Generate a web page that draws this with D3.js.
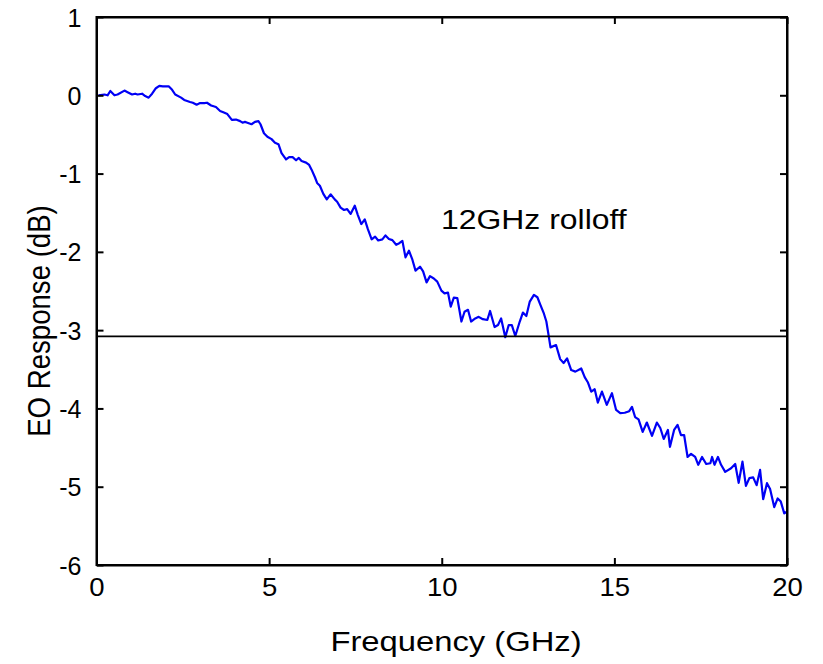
<!DOCTYPE html>
<html><head><meta charset="utf-8">
<script src="https://cdn.jsdelivr.net/npm/d3@7"></script>
<style>body{margin:0;background:#fff}svg{display:block}text{font-family:"Liberation Sans",Arial,Helvetica,sans-serif;fill:#000}</style>
</head><body><svg id="c" width="823" height="664"></svg>
<script>
const freq = [0.06,0.23,0.32,0.40,0.52,0.61,0.81,0.90,1.03,1.12,1.19,1.32,1.41,1.51,1.61,1.72,1.82,1.92,2.09,2.19,2.28,2.45,2.54,2.71,2.79,2.90,3.00,3.12,3.20,3.32,
3.46,3.58,3.69,3.79,3.92,4.04,4.16,4.23,4.30,4.37,4.49,4.59,4.69,4.75,4.85,4.95,5.07,5.17,5.27,5.36,5.49,5.58,5.68,5.78,5.86,5.94,6.07,6.16,6.23,6.33,6.39,6.47,6.57,
6.67,6.78,6.90,6.97,7.07,7.17,7.26,7.36,7.48,7.57,7.67,7.77,7.86,7.97,8.07,8.16,8.28,8.37,8.47,8.57,8.68,8.77,8.86,8.95,9.05,9.15,9.24,9.37,9.46,9.56,9.66,9.77,9.87,
9.99,10.08,10.18,10.26,10.35,10.45,10.57,10.66,10.76,10.85,10.97,11.07,11.19,11.32,11.40,11.53,11.63,11.72,11.84,11.94,12.03,12.13,12.26,12.35,12.45,12.55,12.67,12.77,12.86,12.96,13.03,13.10,13.15,
13.31,13.43,13.53,13.63,13.75,13.87,14.04,14.14,14.23,14.33,14.43,14.52,14.64,14.78,14.93,15.05,15.17,15.30,15.43,15.51,15.60,15.70,15.82,15.94,16.09,16.23,16.33,16.43,16.55,
16.61,16.73,16.83,16.93,17.02,17.12,17.22,17.34,17.43,17.54,17.66,17.78,17.83,17.90,18.00,18.09,18.21,18.38,18.50,18.60,18.71,18.81,18.91,19.02,19.12,19.22,19.31,19.42,19.51,19.63,19.73,19.82,19.92,20.0];
const response = [0.00,0.01,0.00,0.055,0.00,0.01,0.06,0.04,0.01,0.02,0.01,0.02,-0.01,-0.03,0.02,0.09,0.12,0.115,0.115,0.07,0.01,-0.03,-0.06,-0.085,-0.095,-0.12,-0.10,-0.10,-0.095,-0.13,
-0.15,-0.20,-0.22,-0.24,-0.315,-0.31,-0.33,-0.35,-0.34,-0.35,-0.37,-0.34,-0.33,-0.37,-0.485,-0.53,-0.56,-0.605,-0.625,-0.74,-0.82,-0.79,-0.79,-0.83,-0.80,-0.84,-0.86,-0.89,-0.95,-1.05,-1.12,-1.155,-1.26,
-1.33,-1.265,-1.33,-1.36,-1.435,-1.465,-1.455,-1.515,-1.41,-1.53,-1.645,-1.585,-1.71,-1.84,-1.805,-1.855,-1.84,-1.79,-1.835,-1.85,-1.91,-1.89,-1.86,-2.07,-1.985,-2.10,-2.24,-2.19,-2.25,-2.39,-2.31,-2.34,-2.38,
-2.495,-2.53,-2.52,-2.70,-2.585,-2.59,-2.89,-2.765,-2.74,-2.89,-2.85,-2.83,-2.86,-2.87,-2.755,-2.96,-2.935,-2.85,-3.09,-2.935,-2.935,-3.075,-2.89,-2.775,-2.82,-2.635,-2.55,-2.58,-2.68,-2.79,-2.89,-3.08,-3.22,
-3.19,-3.37,-3.42,-3.36,-3.51,-3.53,-3.49,-3.60,-3.665,-3.785,-3.755,-3.925,-3.785,-3.955,-3.805,-4.02,-4.06,-4.055,-4.035,-3.98,-4.11,-4.14,-4.30,-4.18,-4.35,-4.18,-4.25,-4.39,-4.275,
-4.49,-4.275,-4.21,-4.34,-4.34,-4.62,-4.58,-4.62,-4.72,-4.62,-4.71,-4.70,-4.62,-4.72,-4.62,-4.72,-4.81,-4.765,-4.71,-4.95,-4.68,-4.99,-4.89,-4.88,-4.98,-4.785,-5.16,-4.955,-5.03,-5.26,-5.15,-5.19,-5.34,-5.32];
const xTicks = [0,5,10,15,20];
const yTicks = [1,0,-1,-2,-3,-4,-5,-6];
const refLevel = -3.08;
const annotation = "12GHz rolloff";
const xLabel = "Frequency (GHz)";
const yLabel = "EO Response (dB)";

const svg = d3.select("#c");
const L=96.5, R=787, T=17, B=565;
const x = d3.scaleLinear().domain([0,20]).range([L,R]);
const y = d3.scaleLinear().domain([-6,1]).range([B,T]);
const fmt = d => String(d);

svg.append("path").datum(freq.map((f,i)=>[f,response[i]]))
  .attr("fill","none").attr("stroke","#0000f5").attr("stroke-width",2.2).attr("stroke-linejoin","round")
  .attr("d",d3.line().x(d=>x(d[0])).y(d=>y(d[1])));
svg.append("line").attr("x1",L).attr("x2",R).attr("y1",y(refLevel)).attr("y2",y(refLevel))
  .attr("stroke","#000").attr("stroke-width",1.6);

const tl=7;
const ax = svg.append("g");
const gB = ax.append("g").attr("transform",`translate(0,${B})`).call(d3.axisBottom(x).tickValues(xTicks).tickSizeInner(-tl).tickSizeOuter(0).tickPadding(13).tickFormat(fmt));
ax.append("g").attr("transform",`translate(0,${T})`).call(d3.axisTop(x).tickValues(xTicks).tickSizeInner(-tl).tickSizeOuter(0).tickFormat(""));
const gL = ax.append("g").attr("transform",`translate(${L},0)`).call(d3.axisLeft(y).tickValues(yTicks).tickSizeInner(-tl).tickSizeOuter(0).tickPadding(15).tickFormat(fmt));
ax.append("g").attr("transform",`translate(${R},0)`).call(d3.axisRight(y).tickValues(yTicks).tickSizeInner(-tl).tickSizeOuter(0).tickFormat(""));
ax.selectAll(".domain").attr("stroke","#000").attr("stroke-width",2);
ax.selectAll(".tick line").attr("stroke","#000").attr("stroke-width",2);
ax.selectAll(".tick text").style("font-size","25px").attr("fill","#000");
gB.selectAll(".tick text").attr("transform","scale(1.1,1)");
gL.selectAll(".tick text").attr("dy","0.36em");
svg.append("rect").attr("x",L).attr("y",T).attr("width",R-L).attr("height",B-T).attr("fill","none").attr("stroke","#000").attr("stroke-width",2);

svg.append("text").attr("transform","translate(441,229) scale(1.14,1)").style("font-size","28px").text(annotation);
svg.append("text").attr("transform",`translate(456,651) scale(1.17,1)`).attr("text-anchor","middle").style("font-size","28px").text(xLabel);
svg.append("text").attr("transform",`translate(50,321) rotate(-90) scale(1,1.12)`).attr("text-anchor","middle").style("font-size","27.6px").text(yLabel);
</script></body></html>
